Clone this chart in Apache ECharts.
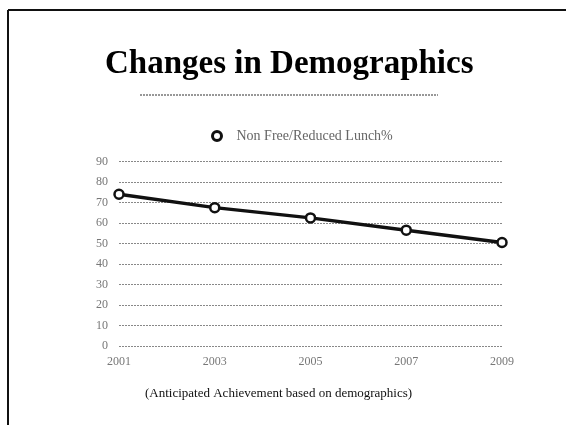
<!DOCTYPE html>
<html>
<head>
<meta charset="utf-8">
<script src="https://cdn.jsdelivr.net/npm/echarts@6/dist/echarts.min.js"></script>
<style>
html,body{margin:0;padding:0;background:#fff;}
#chart{width:566px;height:425px;}
</style>
</head>
<body>
<div id="chart"></div>
<script>
const titleText = 'Changes in Demographics';
const footnote = '(Anticipated Achievement based on demographics)';
const seriesName = 'Non Free/Reduced Lunch%';
const years = ['2001', '2003', '2005', '2007', '2009'];
const lunchValues = [74, 67.5, 62.5, 56.5, 50.5];
const yMin = 0, yMax = 90, yStep = 10;

const chart = echarts.init(document.getElementById('chart'), null, {renderer: 'canvas'});
const serif = '"Liberation Serif", "DejaVu Serif", serif';
chart.setOption({
  animation: false,
  backgroundColor: '#fff',
  title: [
    {
      text: titleText, left: 100, top: 43,
      textStyle: {fontFamily: serif, fontSize: 33, fontWeight: 'bold', color: '#000'}
    },
    {
      text: footnote, left: 140, top: 382,
      textStyle: {fontFamily: serif, fontSize: 13, fontWeight: 'normal', color: '#111'}
    }
  ],
  graphic: [
    {type: 'line', shape: {x1: 8, y1: 10, x2: 566, y2: 10}, style: {stroke: '#111', lineWidth: 2}},
    {type: 'line', shape: {x1: 8, y1: 10, x2: 8, y2: 425}, style: {stroke: '#111', lineWidth: 2}},
    {type: 'line', shape: {x1: 140, y1: 95, x2: 438, y2: 95}, style: {stroke: '#777', lineWidth: 1.5, lineDash: [2, 1]}}
  ],
  legend: {
    left: 206, top: 124,
    icon: 'circle',
    itemWidth: 9, itemHeight: 9,
    itemStyle: {borderWidth: 3},
    textStyle: {fontFamily: serif, fontSize: 14, color: '#666', padding: [0, 0, 0, 10]},
    data: [seriesName]
  },
  grid: {left: 119, right: 64, top: 161.5, bottom: 79},
  xAxis: {
    type: 'category', data: years, boundaryGap: false,
    axisLine: {show: false}, axisTick: {show: false},
    axisLabel: {fontFamily: serif, fontSize: 12, color: '#777', margin: 10}
  },
  yAxis: {
    type: 'value', min: yMin, max: yMax, interval: yStep,
    axisLine: {show: false}, axisTick: {show: false},
    axisLabel: {fontFamily: serif, fontSize: 12, color: '#777', margin: 11},
    splitLine: {lineStyle: {color: '#888', width: 1, type: [2, 1]}}
  },
  series: [{
    name: seriesName, type: 'line', data: lunchValues,
    symbol: 'circle', symbolSize: 9,
    lineStyle: {color: '#111', width: 3.5},
    itemStyle: {color: '#fff', borderColor: '#111', borderWidth: 2.5}
  }]
});
</script>
</body>
</html>
